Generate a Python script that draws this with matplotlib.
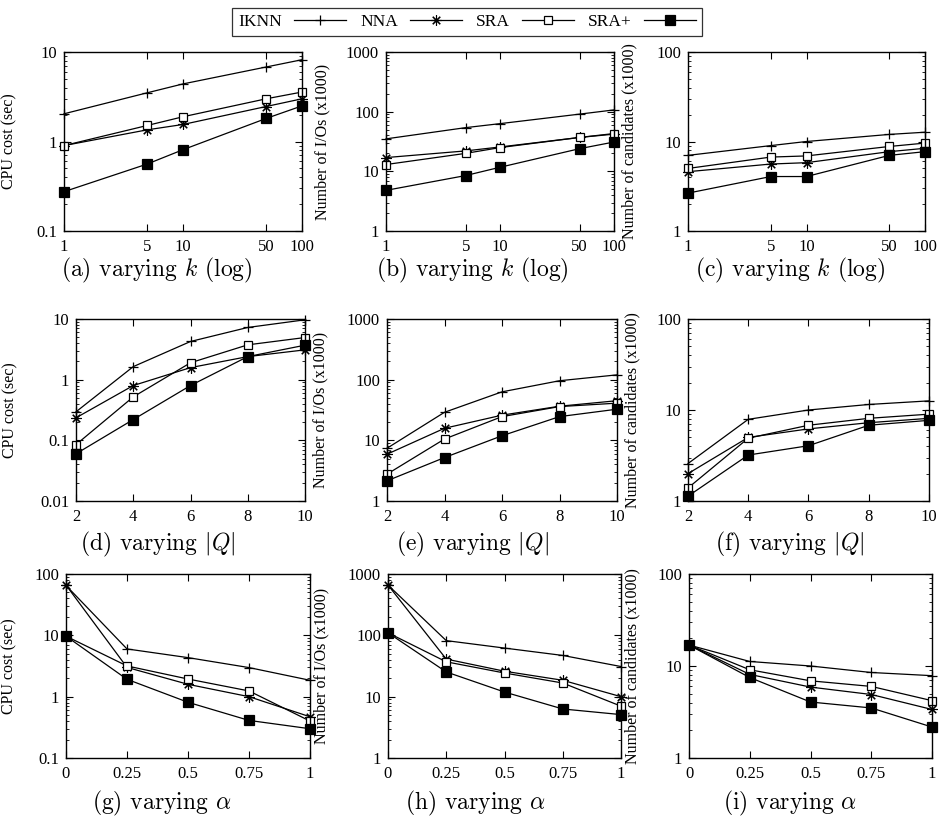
import numpy as np
import matplotlib.pyplot as plt
from matplotlib.ticker import FixedLocator, FixedFormatter, LogLocator, NullFormatter

plt.rcParams['font.family'] = ['Liberation Serif', 'DejaVu Serif']
plt.rcParams['mathtext.fontset'] = 'cm'

methods = ['IKNN', 'NNA', 'SRA', 'SRA+']

k_vals = [1, 5, 10, 50, 100]
k_labels = ['1', '5', '10', '50', '100']
q_vals = [2, 4, 6, 8, 10]
q_labels = ['2', '4', '6', '8', '10']
alpha_vals = [0, 0.25, 0.5, 0.75, 1]
alpha_labels = ['0', '0.25', '0.5', '0.75', '1']

# rows: IKNN, NNA, SRA, SRA+
cpu_k = [[2.04, 3.5, 4.4, 6.8, 8.2],
         [0.90, 1.35, 1.55, 2.46, 3.0],
         [0.90, 1.51, 1.89, 3.0, 3.57],
         [0.275, 0.56, 0.81, 1.81, 2.5]]
io_k = [[35, 54, 63, 91, 107],
        [17, 22, 25.6, 37, 43],
        [13, 20, 25, 37, 42],
        [4.8, 8.5, 11.7, 24, 31]]
cand_k = [[7.0, 9.0, 10, 12, 12.7],
          [4.6, 5.6, 5.8, 7.7, 8.4],
          [5.0, 6.7, 6.9, 8.8, 9.6],
          [2.65, 4.06, 4.06, 7.0, 7.7]]

cpu_q = [[0.295, 1.64, 4.26, 7.25, 9.7],
         [0.235, 0.8, 1.58, 2.4, 3.1],
         [0.085, 0.52, 1.9, 3.75, 4.95],
         [0.06, 0.22, 0.8, 2.4, 3.7]]
io_q = [[7.4, 29, 63, 96, 120],
        [5.9, 15.8, 26, 36.5, 45],
        [2.77, 10.5, 24.6, 36, 41],
        [2.15, 5.2, 11.9, 24.6, 32.6]]
cand_q = [[2.58, 7.9, 10, 11.5, 12.6],
          [2.0, 5.0, 6.2, 7.25, 8.1],
          [1.39, 4.9, 6.8, 8.1, 9.0],
          [1.13, 3.2, 4.05, 6.8, 7.7]]

cpu_a = [[65, 6.0, 4.33, 2.98, 1.85],
         [66, 3.0, 1.59, 1.0, 0.47],
         [9.7, 3.17, 1.94, 1.24, 0.40],
         [9.7, 1.92, 0.81, 0.41, 0.30]]
io_a = [[660, 82, 62, 47, 31],
        [660, 41, 26, 18.5, 10],
        [110, 37, 24.3, 16.7, 7.0],
        [110, 25.3, 11.9, 6.3, 5.1]]
cand_a = [[16.9, 11.2, 10, 8.5, 7.85],
          [16.9, 8.1, 5.9, 4.9, 3.37],
          [16.9, 9.1, 6.9, 6.0, 4.2],
          [16.9, 7.5, 4.06, 3.5, 2.17]]

ylab_cpu = 'CPU cost (sec)'
ylab_io = 'Number of I/Os (x1000)'
ylab_cand = 'Number of candidates (x1000)'

W, H = 940, 817
fig = plt.figure(figsize=(W / 100, H / 100), dpi=100)

styles = [dict(marker='+', ms=7, mew=0.9, mfc='black'),
          dict(marker=(8, 2, 0), ms=7.5, mew=0.8, mfc='black'),
          dict(marker='s', ms=6, mew=0.9, mfc='white'),
          dict(marker='s', ms=6.8, mew=0.9, mfc='black')]

# pixel boxes: left, top, right, bottom
boxes = [(64, 52, 302, 231), (386, 52, 614, 231), (688, 52, 925, 231),
         (76, 319, 305, 501), (387, 319, 617, 501), (688, 319, 929, 501),
         (66, 574, 310, 758), (388, 574, 621, 758), (689, 574, 932, 758)]
ylab_x = [17, 330, 637, 18, 328, 640, 17, 329, 640]

panels = [
    (k_vals, k_labels, cpu_k, ylab_cpu, (0.1, 10), 'log', r'(a) varying $k$ (log)'),
    (k_vals, k_labels, io_k, ylab_io, (1, 1000), 'log', r'(b) varying $k$ (log)'),
    (k_vals, k_labels, cand_k, ylab_cand, (1, 100), 'log', r'(c) varying $k$ (log)'),
    (q_vals, q_labels, cpu_q, ylab_cpu, (0.01, 10), 'linear', r'(d) varying $|Q|$'),
    (q_vals, q_labels, io_q, ylab_io, (1, 1000), 'linear', r'(e) varying $|Q|$'),
    (q_vals, q_labels, cand_q, ylab_cand, (1, 100), 'linear', r'(f) varying $|Q|$'),
    (alpha_vals, alpha_labels, cpu_a, ylab_cpu, (0.1, 100), 'linear', r'(g) varying $\alpha$'),
    (alpha_vals, alpha_labels, io_a, ylab_io, (1, 1000), 'linear', r'(h) varying $\alpha$'),
    (alpha_vals, alpha_labels, cand_a, ylab_cand, (1, 100), 'linear', r'(i) varying $\alpha$'),
]
cap_x = [157, 472, 790, 158, 472, 790, 162, 475, 790]
cap_y = [270, 270, 270, 544, 544, 544, 803, 803, 803]

handles = []
for i, (xs, xl, series, ylab, ylim, xscale, cap) in enumerate(panels):
    l, t, r, b = boxes[i]
    ax = fig.add_axes([l / W, 1 - b / H, (r - l) / W, (b - t) / H])
    for j, ys in enumerate(series):
        ln, = ax.plot(xs, ys, color='black', lw=0.9, clip_on=False,
                      mec='black', **styles[j])
        if i == 0:
            handles.append(ln)
    ax.set_xscale(xscale)
    ax.set_yscale('log')
    ax.set_xlim(xs[0], xs[-1])
    ax.set_ylim(*ylim)
    ax.xaxis.set_major_locator(FixedLocator(xs))
    ax.xaxis.set_major_formatter(FixedFormatter(xl))
    ax.xaxis.set_minor_locator(FixedLocator([]))
    ax.yaxis.set_major_locator(LogLocator(base=10, numticks=10))
    ax.yaxis.set_minor_locator(LogLocator(base=10, subs=np.arange(2, 10), numticks=20))
    ax.yaxis.set_minor_formatter(NullFormatter())
    ax.yaxis.set_major_formatter(plt.FuncFormatter(lambda v, p: '%g' % v))
    ax.tick_params(which='both', direction='in', top=True, right=True,
                   labelsize=12)
    ax.tick_params(axis='x', pad=6)
    ax.tick_params(axis='y', pad=5)
    ax.tick_params(which='major', length=5, width=0.8)
    ax.tick_params(which='minor', length=2.5, width=0.6)
    for s in ax.spines.values():
        s.set_linewidth(1.0)
    ax.set_ylabel(ylab, fontsize=11.5)
    ax.yaxis.set_label_coords((ylab_x[i] - l) / (r - l), 0.5)
    fig.text(cap_x[i] / W, 1 - cap_y[i] / H, cap, ha='center', va='center',
             fontsize=17, family='cmr10')

leg = fig.legend(handles, methods, loc='center', bbox_to_anchor=(467 / W, 1 - 22 / H),
                 ncol=4, markerfirst=False, handlelength=3.0, columnspacing=0.8,
                 handletextpad=0.7, fontsize=12.5, frameon=True, fancybox=False,
                 edgecolor='black', borderpad=0.35)
leg.get_frame().set_linewidth(0.9)

fig.savefig('out.png', dpi=100)
